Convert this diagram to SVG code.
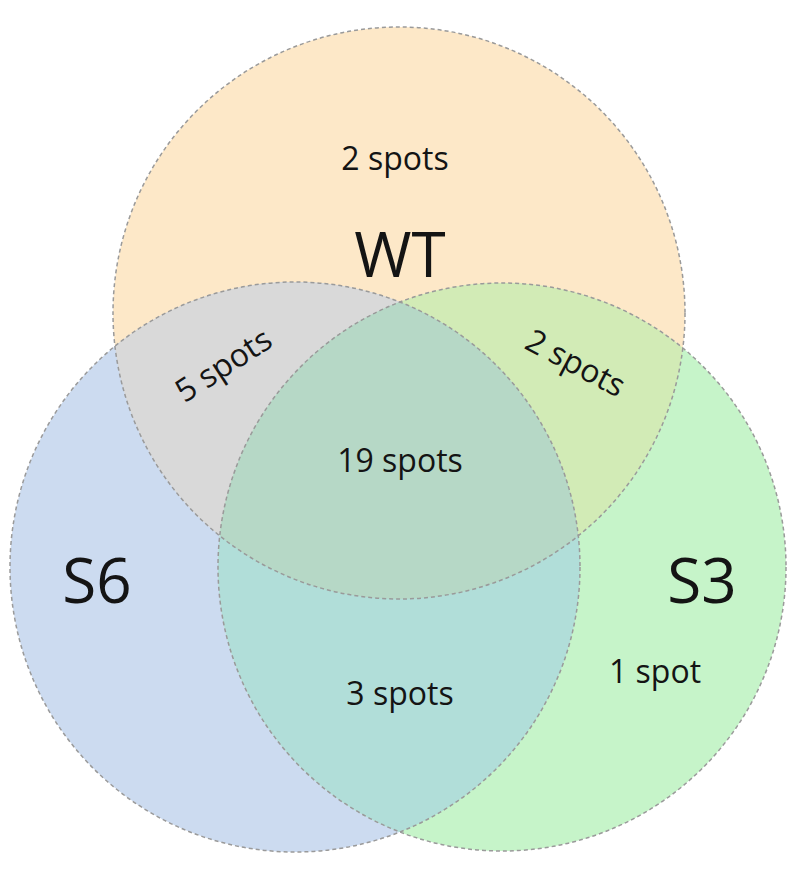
<svg xmlns="http://www.w3.org/2000/svg" width="800" height="879" viewBox="0 0 800 879">
<style>
.lbl{font-family:"Open Sans","Liberation Sans",sans-serif;fill:#141414;text-anchor:middle}
.s{font-size:32px}
.b{font-size:62px}
.ol{fill:none;stroke:#9a9a9a;stroke-width:1.5;stroke-dasharray:4 3}
</style>
<defs>
<circle id="cWT" cx="399" cy="313" r="286"/>
<circle id="cS6" cx="295" cy="567" r="285"/>
<circle id="cS3" cx="502" cy="567" r="284"/>
<clipPath id="kWT"><use href="#cWT"/></clipPath>
<clipPath id="kS6"><use href="#cS6"/></clipPath>
<clipPath id="kS3"><use href="#cS3"/></clipPath>
</defs>
<rect width="800" height="879" fill="#ffffff"/>
<g id="fills">
<use href="#cWT" fill="#fde8c8"/>
<use href="#cS6" fill="#ccdbf0"/>
<use href="#cS3" fill="#c6f4c9"/>
<g clip-path="url(#kWT)"><use href="#cS6" fill="#d9d9d9"/><use href="#cS3" fill="#d2ebb6"/></g>
<g clip-path="url(#kS6)"><use href="#cS3" fill="#b1ded9"/></g>
<g clip-path="url(#kWT)"><g clip-path="url(#kS6)"><use href="#cS3" fill="#b6d8c6"/></g></g>
</g>
<g id="outlines">
<use href="#cWT" class="ol"/>
<use href="#cS6" class="ol"/>
<use href="#cS3" class="ol"/>
</g>
<g id="WT"><text class="lbl b" x="400" y="277">WT</text><text class="lbl s" x="395" y="170">2 spots</text></g>
<g id="S6"><text class="lbl b" x="97" y="603">S6</text></g>
<g id="S3"><text class="lbl b" x="702" y="603">S3</text><text class="lbl s" x="655" y="683">1 spot</text></g>
<g id="WT_S6"><text class="lbl s" transform="translate(224,366) rotate(-33)" x="0" y="10">5 spots</text></g>
<g id="WT_S3"><text class="lbl s" transform="translate(575,364) rotate(28)" x="0" y="10">2 spots</text></g>
<g id="S6_S3"><text class="lbl s" x="400" y="705">3 spots</text></g>
<g id="all"><text class="lbl s" x="400" y="472">19 spots</text></g>
</svg>
